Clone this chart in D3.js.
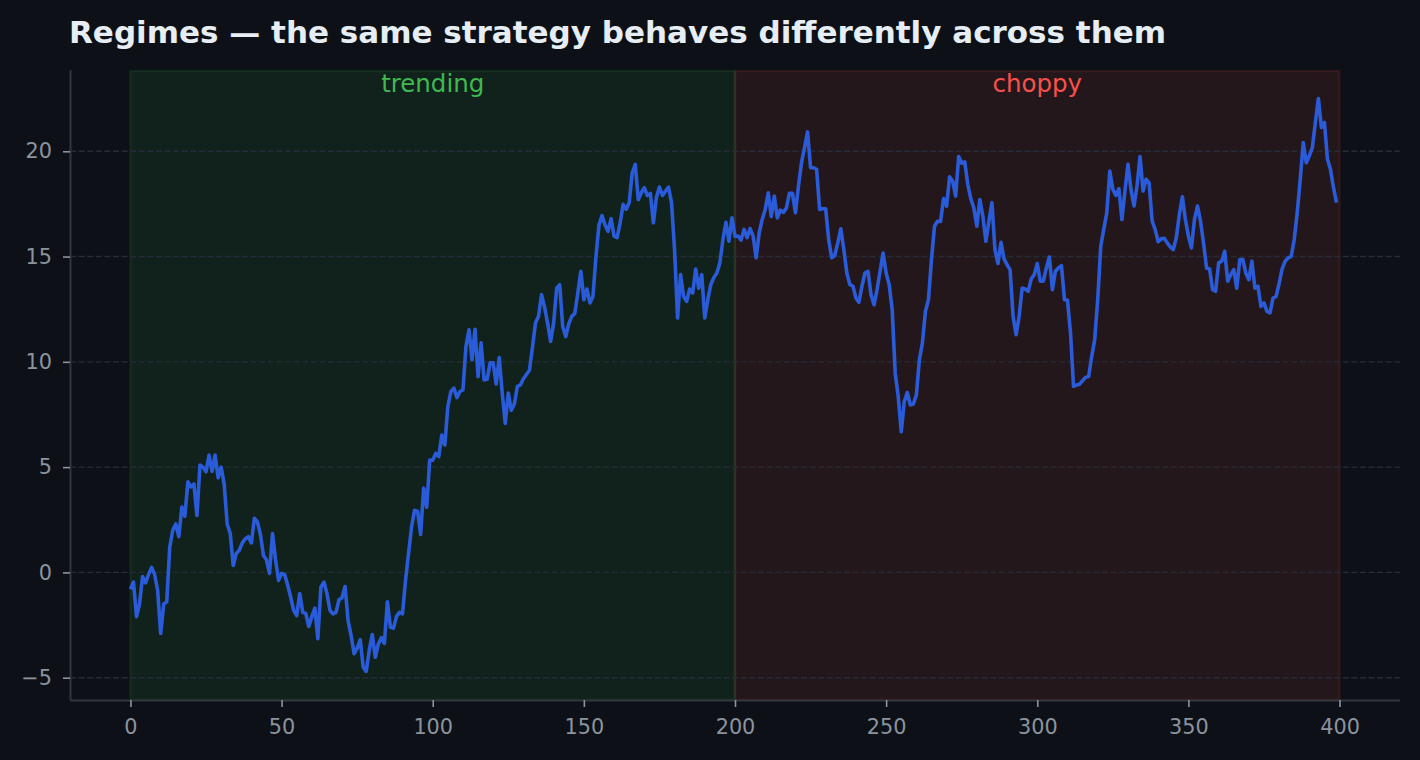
<!DOCTYPE html>
<html>
<head>
<meta charset="utf-8">
<script src="https://cdn.jsdelivr.net/npm/d3@7"></script>
<style>
  html, body { margin: 0; padding: 0; background: #0d1117; }
  svg { display: block; }
</style>
</head>
<body>
<svg id="chart" width="1420" height="760"></svg>
<script>
// ---- data ----
const title = "Regimes — the same strategy behaves differently across them";
const equity = [
  -0.8, -0.46, -2.1, -1.5, -0.2, -0.5, -0.1, 0.24, -0.1, -0.86,
  -2.9, -1.5, -1.4, 1.2, 2.0, 2.3, 1.7, 3.1, 2.67, 4.3,
  4.06, 4.2, 2.7, 5.1, 5.0, 4.78, 5.57, 4.8, 5.57, 4.5,
  5.0, 4.2, 2.3, 1.85, 0.33, 0.9, 1.05, 1.4, 1.6, 1.7,
  1.4, 2.57, 2.4, 1.8, 0.8, 0.6, -0.05, 1.85, 0.6, -0.38,
  -0.05, -0.1, -0.6, -1.17, -1.8, -2.05, -1.0, -1.9, -1.95, -2.57,
  -2.1, -1.7, -3.15, -0.7, -0.46, -1.0, -1.8, -1.97, -1.9, -1.3,
  -1.2, -0.67, -2.29, -3.0, -3.86, -3.6, -3.2, -4.5, -4.7, -3.7,
  -2.95, -4.03, -3.4, -3.1, -3.37, -1.4, -2.6, -2.65, -2.1, -1.9,
  -1.97, -0.38, 0.9, 2.16, 2.95, 2.9, 1.8, 4.0, 3.1, 5.33,
  5.33, 5.65, 5.5, 6.52, 6.05, 7.87, 8.59, 8.75, 8.3, 8.59,
  8.67, 10.73, 11.52, 10.1, 11.55, 9.3, 10.9, 9.14, 9.17, 9.95,
  9.95, 8.95, 10.2, 8.5, 7.08, 8.52, 7.7, 8.0, 8.83, 8.9,
  9.2, 9.4, 9.6, 10.7, 11.84, 12.16, 13.19, 12.6, 11.84, 10.97,
  11.84, 13.5, 13.67, 11.68, 11.2, 11.8, 12.16, 12.3, 13.27, 14.3,
  12.95, 13.46, 12.8, 13.1, 15.0, 16.5, 16.95, 16.5, 16.2, 16.8,
  15.97, 15.9, 16.6, 17.48, 17.25, 17.56, 18.98, 19.38, 17.7, 18.03,
  18.27, 17.9, 18.0, 16.6, 17.8, 18.3, 17.9, 18.1, 18.3, 17.56,
  15.33, 12.08, 14.14, 13.1, 12.87, 13.46, 13.27, 14.41, 13.5, 14.14,
  12.08, 12.95, 13.67, 14.0, 14.22, 14.7, 15.8, 16.63, 15.73, 16.84,
  15.97, 15.97, 15.78, 16.29, 15.9, 16.33, 15.97, 14.94, 16.13, 16.76,
  17.24, 18.03, 16.9, 17.87, 16.84, 17.2, 17.1, 17.3, 18.0, 18.0,
  17.08, 18.35, 19.46, 20.17, 20.92, 19.22, 19.22, 19.14, 17.24, 17.27,
  17.27, 15.8, 14.94, 15.05, 15.65, 16.32, 15.33, 14.22, 13.67, 13.6,
  13.03, 12.83, 13.59, 14.22, 14.3, 13.19, 12.71, 13.43, 14.3, 15.17,
  14.22, 13.67, 12.48, 9.46, 8.35, 6.68, 8.11, 8.54, 7.95, 8.0,
  8.43, 10.1, 10.9, 12.4, 12.95, 14.86, 16.44, 16.68, 16.67, 17.75,
  17.4, 18.79, 18.59, 17.87, 19.75, 19.43, 19.5, 18.43, 17.75, 17.32,
  16.44, 17.71, 16.92, 15.73, 16.68, 17.56, 15.33, 14.67, 15.68, 14.89,
  14.62, 14.38, 12.16, 11.29, 12.16, 13.5, 13.46, 13.35, 13.94, 14.14,
  14.67, 13.83, 13.83, 14.46, 14.98, 13.43, 14.3, 14.46, 14.57, 12.95,
  12.92, 11.37, 8.83, 8.9, 8.94, 9.11, 9.27, 9.3, 10.25, 11.05,
  12.95, 15.49, 16.29, 17.08, 19.06, 18.19, 17.9, 18.22, 16.76, 18.1,
  19.38, 18.19, 17.4, 18.35, 19.75, 18.11, 18.67, 18.5, 16.68, 16.29,
  15.7, 15.84, 15.87, 15.65, 15.46, 15.33, 15.89, 17.0, 17.84, 16.76,
  15.97, 15.41, 16.76, 17.4, 16.68, 15.65, 14.46, 14.41, 13.43, 13.35,
  14.7, 14.78, 15.25, 13.83, 14.14, 14.38, 13.5, 14.86, 14.86, 14.22,
  13.9, 14.78, 13.5, 13.59, 12.63, 12.8, 12.4, 12.32, 13.03, 13.11,
  13.71, 14.41, 14.78, 14.94, 15.0, 15.8, 17.08, 18.67, 20.41, 19.46,
  19.78, 20.17, 21.37, 22.5, 21.13, 21.37, 19.62, 19.14, 18.27, 17.56
];
const regimeNames = ["trending", "choppy"];
const regimeStart = [0, 200];
const regimeEnd = [200, 400];
const xTicks = [0, 50, 100, 150, 200, 250, 300, 350, 400];
const yTicks = [-5, 0, 5, 10, 15, 20];

// ---- style ----
const BG = "#0d1117";
const regimeColors = ["#3fb950", "#f85149"];
const lineColor = "#2a5bd9";
const spineColor = "#30363d";
const tickTextColor = "#8b949e";
const gridColor = "#262c35";
const titleColor = "#e6edf3";

const margin = { left: 70, right: 20, top: 70, bottom: 60 };
const W = 1420, H = 760;
const x0 = margin.left, x1 = W - margin.right;
const y0 = margin.top, y1 = H - margin.bottom;

const svg = d3.select("#chart");
svg.append("rect").attr("width", W).attr("height", H).attr("fill", BG);

const xMax = d3.max(regimeEnd);
const xPad = xMax * 0.05;
const x = d3.scaleLinear().domain([-xPad, xMax + xPad]).range([x0, x1]);
const yMin = d3.min(equity), yMax = d3.max(equity);
const yPad = (yMax - yMin) * 0.05;
const y = d3.scaleLinear().domain([yMin - yPad, yMax + yPad]).range([y1, y0]);

// regime spans
const spans = svg.append("g");
regimeNames.forEach((name, i) => {
  spans.append("rect")
    .attr("x", x(regimeStart[i]))
    .attr("y", y0 + 1)
    .attr("width", x(regimeEnd[i]) - x(regimeStart[i]))
    .attr("height", y1 - y0 - 1)
    .attr("fill", regimeColors[i])
    .attr("fill-opacity", 0.1)
    .attr("stroke", regimeColors[i])
    .attr("stroke-opacity", 0.1)
    .attr("stroke-width", 2.5);
});

// grid
svg.append("g").selectAll("line").data(yTicks).join("line")
  .attr("x1", x0).attr("x2", x1)
  .attr("y1", d => y(d)).attr("y2", d => y(d))
  .attr("stroke", gridColor).attr("stroke-width", 1.4)
  .attr("stroke-dasharray", "6,2.6");

// regime labels
regimeNames.forEach((name, i) => {
  svg.append("text")
    .attr("x", x((regimeStart[i] + regimeEnd[i]) / 2))
    .attr("y", 91.5)
    .attr("text-anchor", "middle")
    .attr("font-family", "DejaVu Sans, sans-serif")
    .attr("font-size", 24.5)
    .attr("fill", regimeColors[i])
    .text(name);
});

// line
const line = d3.line().x((d, i) => x(i)).y(d => y(d));
svg.append("path")
  .datum(equity)
  .attr("d", line)
  .attr("fill", "none")
  .attr("stroke", lineColor)
  .attr("stroke-width", 3.6)
  .attr("stroke-linejoin", "round");

// axes
const xAxis = d3.axisBottom(x).tickValues(xTicks).tickSize(7).tickPadding(12).tickFormat(d3.format("d"));
const yAxis = d3.axisLeft(y).tickValues(yTicks).tickSize(7).tickPadding(11).tickFormat(d3.format("d"));

const gx = svg.append("g").attr("transform", `translate(0,${y1})`).call(xAxis);
const gy = svg.append("g").attr("transform", `translate(${x0},0)`).call(yAxis);
[gx, gy].forEach(g => {
  g.select(".domain").attr("stroke", spineColor).attr("stroke-width", 2);
  g.selectAll(".tick line").attr("stroke", tickTextColor).attr("stroke-width", 1.6);
  g.selectAll(".tick text")
    .attr("fill", tickTextColor)
    .attr("font-family", "DejaVu Sans, sans-serif")
    .attr("font-size", 20.8);
});
gx.select(".domain").attr("d", `M${x0},0.5H${x1}`);
gy.select(".domain").attr("d", `M0.5,${y1}V${y0}`);

// title
svg.append("text")
  .attr("x", 69)
  .attr("y", 43)
  .attr("font-family", "DejaVu Sans, sans-serif")
  .attr("font-weight", "bold")
  .attr("font-size", 31)
  .attr("fill", titleColor)
  .text(title);
</script>
</body>
</html>
